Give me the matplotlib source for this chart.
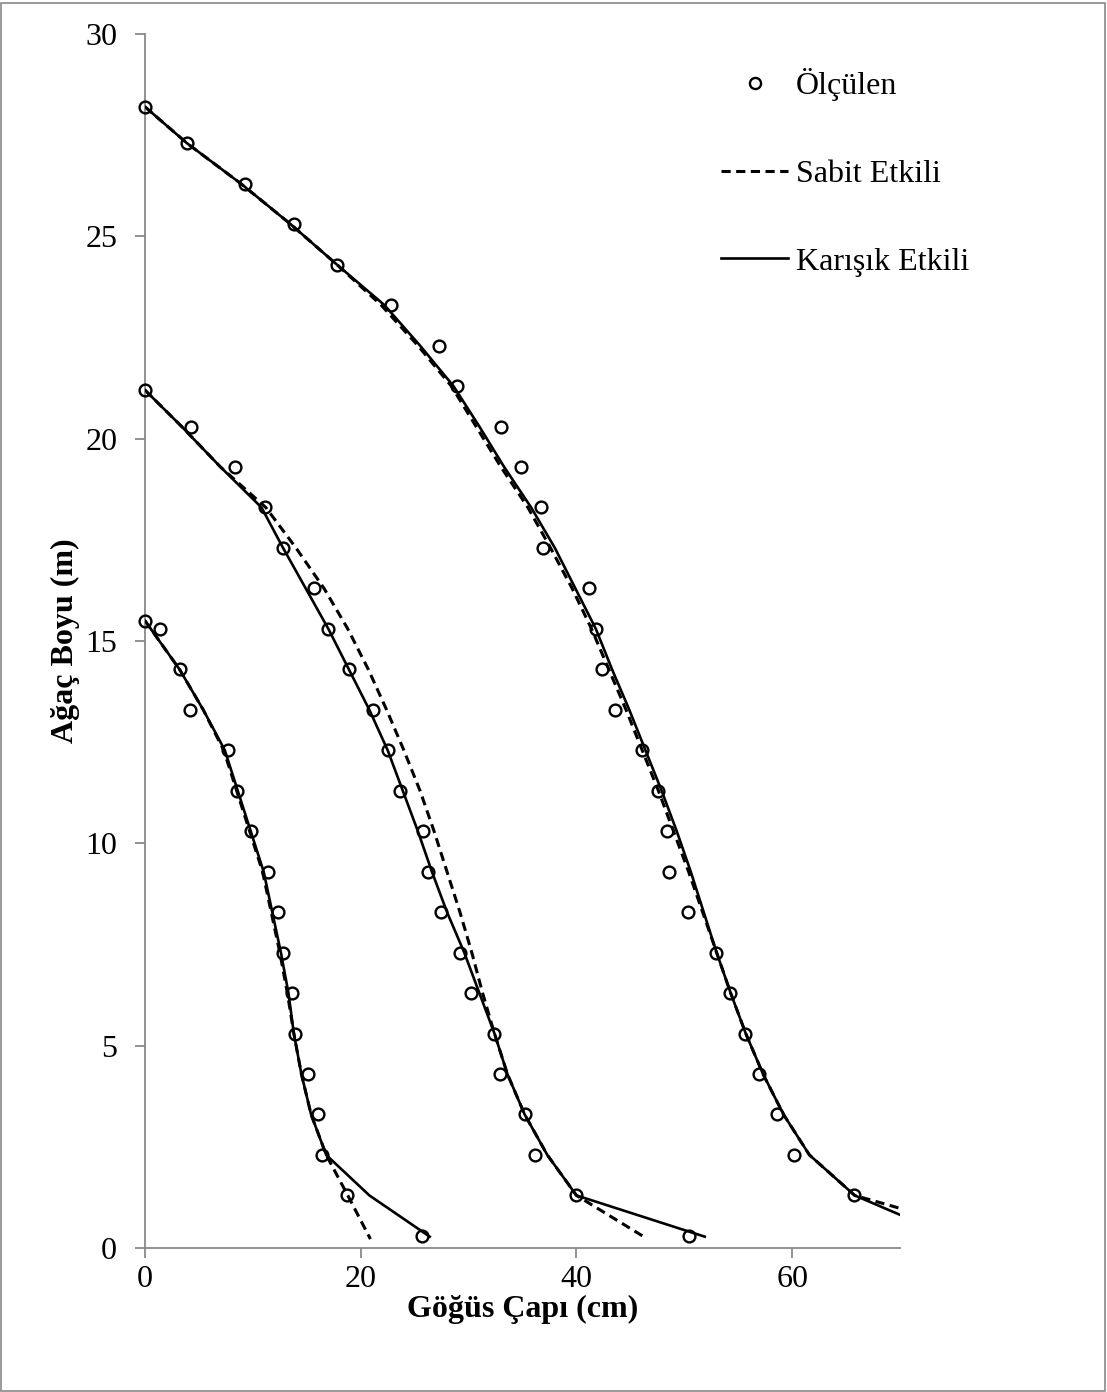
import matplotlib.pyplot as plt
from matplotlib.lines import Line2D
from matplotlib.patches import Rectangle


# Measured points (Ölçülen): diameter (cm) vs height (m), three trees
T1_H = [28.2, 27.3, 26.3, 25.3, 24.3, 23.3, 22.3, 21.3, 20.3, 19.3, 18.3, 17.3, 16.3, 15.3,
        14.3, 13.3, 12.3, 11.3, 10.3, 9.3, 8.3, 7.3, 6.3, 5.3, 4.3, 3.3, 2.3, 1.3]
T1_D = [0.0, 3.9, 9.3, 13.8, 17.8, 22.8, 27.3, 28.9, 33.0, 34.9, 36.7, 36.9, 41.2, 41.8,
        42.4, 43.6, 46.1, 47.6, 48.4, 48.6, 50.3, 52.9, 54.2, 55.6, 56.9, 58.6, 60.2, 65.7]

T2_H = [21.2, 20.3, 19.3, 18.3, 17.3, 16.3, 15.3, 14.3, 13.3, 12.3, 11.3, 10.3, 9.3, 8.3,
        7.3, 6.3, 5.3, 4.3, 3.3, 2.3, 1.3, 0.3]
T2_D = [0.0, 4.3, 8.3, 11.1, 12.8, 15.7, 17.0, 18.9, 21.1, 22.5, 23.6, 25.8, 26.2, 27.4,
        29.2, 30.2, 32.4, 32.9, 35.2, 36.2, 40.0, 50.4]

T3_H = [15.5, 15.3, 14.3, 13.3, 12.3, 11.3, 10.3, 9.3, 8.3, 7.3, 6.3, 5.3, 4.3, 3.3, 2.3, 1.3, 0.3]
T3_D = [0.0, 1.4, 3.2, 4.2, 7.7, 8.5, 9.8, 11.4, 12.3, 12.8, 13.6, 13.9, 15.1, 16.0, 16.4, 18.7, 25.7]

# Sabit Etkili (fixed effects) predictions
S1_H = [28.2, 27.3, 26.3, 25.3, 24.3, 23.3, 22.3, 21.3, 20.3, 19.3, 18.3, 17.3, 16.3, 15.3,
        14.3, 13.3, 12.3, 11.3, 10.3, 9.3, 8.3, 7.3, 6.3, 5.3, 4.3, 3.3, 2.3, 1.3, 0.98]
S1_D = [0.0, 3.9, 8.9, 13.5, 17.8, 21.9, 25.3, 28.4, 30.7, 33.0, 35.5, 37.6, 39.6, 41.4,
        43.0, 44.6, 46.1, 47.6, 49.0, 50.4, 51.7, 53.0, 54.3, 55.7, 57.3, 59.2, 61.6, 65.8, 70.0]

S2_H = [21.2, 20.3, 19.3, 18.3, 17.3, 16.3, 15.3, 14.3, 13.3, 12.3, 11.3, 10.3, 9.3, 8.3,
        7.3, 6.3, 5.3, 4.3, 3.3, 2.3, 1.3, 0.27]
S2_D = [0.0, 3.4, 7.0, 11.2, 14.0, 16.6, 18.8, 20.7, 22.4, 24.0, 25.5, 26.8, 28.0, 29.2,
        30.3, 31.3, 32.4, 33.6, 35.2, 37.3, 40.0, 46.3]

S3_H = [15.5, 14.3, 13.3, 12.3, 11.3, 10.3, 9.3, 8.3, 7.3, 6.3, 5.3, 4.3, 3.3, 2.3, 1.3, 0.22]
S3_D = [0.0, 3.2, 5.4, 7.3, 8.5, 9.7, 10.9, 11.7, 12.5, 13.2, 13.8, 14.5, 15.4, 16.8, 18.8, 20.9]

# Karışık Etkili (mixed effects) predictions
K1_H = [28.2, 27.3, 26.3, 25.3, 24.3, 23.3, 22.3, 21.3, 20.3, 19.3, 18.3, 17.3, 16.3, 15.3,
        14.3, 13.3, 12.3, 11.3, 10.3, 9.3, 8.3, 7.3, 6.3, 5.3, 4.3, 3.3, 2.3, 1.3, 0.82]
K1_D = [0.0, 3.9, 8.9, 13.5, 17.8, 22.2, 25.5, 28.6, 31.0, 33.3, 35.8, 38.0, 39.9, 41.8,
        43.3, 44.9, 46.4, 47.9, 49.3, 50.6, 51.8, 53.0, 54.3, 55.7, 57.3, 59.2, 61.6, 65.8, 70.0]

K2_H = [21.2, 20.3, 19.3, 18.3, 17.3, 16.3, 15.3, 14.3, 13.3, 12.3, 11.3, 10.3, 9.3, 8.3,
        7.3, 6.3, 5.3, 4.3, 3.3, 2.3, 1.3, 0.28]
K2_D = [0.0, 3.4, 7.0, 10.8, 12.8, 14.9, 17.0, 18.9, 20.8, 22.5, 23.9, 25.3, 26.6, 28.0,
        29.6, 31.0, 32.4, 33.6, 35.2, 37.3, 40.0, 51.9]

K3_H = [15.5, 14.3, 13.3, 12.3, 11.3, 10.3, 9.3, 8.3, 7.3, 6.3, 5.3, 4.3, 3.3, 2.3, 1.3, 0.28]
K3_D = [0.0, 3.2, 5.4, 7.4, 8.6, 9.8, 11.0, 11.8, 12.6, 13.3, 13.8, 14.5, 15.4, 16.8, 20.8, 26.4]

LEGEND_LABELS = ["Ölçülen", "Sabit Etkili", "Karışık Etkili"]
X_LABEL = "Göğüs Çapı (cm)"
Y_LABEL = "Ağaç Boyu (m)"

GRAY = "#898989"
FS = 23

plt.rcParams["font.family"] = ["Liberation Serif", "DejaVu Serif"]

fig = plt.figure(figsize=(11.07, 13.92), dpi=100)
ax = fig.add_axes([145 / 1107, 1 - 1248 / 1392, 755 / 1107, 1214 / 1392])

dash = (3.0, 1.8)
for d, h in [(S1_D, S1_H), (S2_D, S2_H), (S3_D, S3_H)]:
    ax.plot(d, h, color="black", lw=2.2, dashes=dash, zorder=2)
for d, h in [(K1_D, K1_H), (K2_D, K2_H), (K3_D, K3_H)]:
    ax.plot(d, h, color="black", lw=1.9, zorder=3)
for d, h in [(T1_D, T1_H), (T2_D, T2_H), (T3_D, T3_H)]:
    ax.plot(d, h, ls="none", marker="o", ms=8.5, mfc="none", mec="black", mew=1.7,
            clip_on=False, zorder=4)

ax.set_xlim(0, 70)
ax.set_ylim(0, 30)
ax.set_xticks([0, 20, 40, 60])
ax.set_yticks([0, 5, 10, 15, 20, 25, 30])
for side in ["top", "right"]:
    ax.spines[side].set_visible(False)
for side in ["left", "bottom"]:
    ax.spines[side].set_color(GRAY)
    ax.spines[side].set_linewidth(1.3)
ax.tick_params(axis="both", direction="out", length=7, width=1.3, color=GRAY,
               labelsize=FS, labelcolor="black")
ax.tick_params(axis="y", pad=13)
ax.tick_params(axis="x", pad=5)

ax.set_xlabel(X_LABEL, fontsize=FS, fontweight="bold", labelpad=1)
ax.set_ylabel(Y_LABEL, fontsize=FS, fontweight="bold", labelpad=4)

handles = [
    Line2D([], [], ls="none", marker="o", ms=8, mfc="none", mec="black", mew=1.7),
    Line2D([], [], color="black", lw=2.2, dashes=dash),
    Line2D([], [], color="black", lw=1.9),
]
ax.legend(handles, LEGEND_LABELS, loc="upper left", bbox_to_anchor=(0.763, 0.972),
          frameon=False, fontsize=FS, handlelength=2.1, handletextpad=0.25,
          labelspacing=1.83, borderpad=0, borderaxespad=0, numpoints=1)

fig.patches.append(Rectangle((0.001, 0.001), 0.997, 0.997, transform=fig.transFigure,
                             fill=False, ec=GRAY, lw=1.2))

fig.savefig("out.png", dpi=100)
